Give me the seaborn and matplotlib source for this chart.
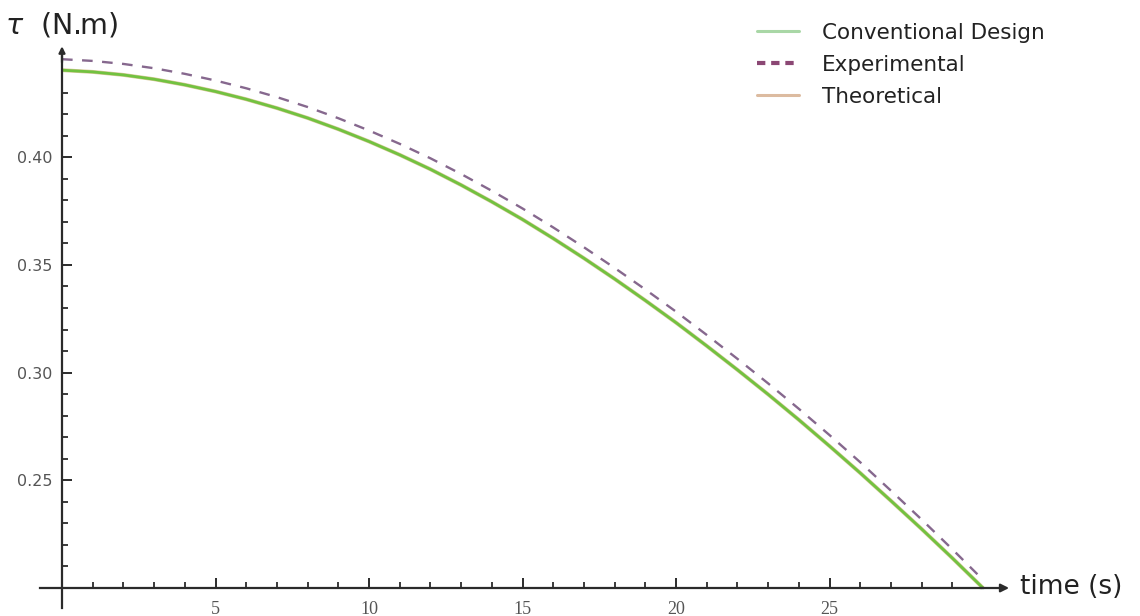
import numpy as np
import pandas as pd
import matplotlib
matplotlib.use("Agg")
import matplotlib.pyplot as plt
from matplotlib.lines import Line2D
from matplotlib.ticker import FixedLocator
import seaborn as sns

# Torque versus time for the three models
time_s = list(range(0, 31))
conventional = [0.4404, 0.4396, 0.4382, 0.4362, 0.4336, 0.4305, 0.4269,
                0.4228, 0.4182, 0.4130, 0.4073, 0.4011, 0.3944, 0.3871,
                0.3793, 0.3711, 0.3623, 0.3531, 0.3435, 0.3335, 0.3232,
                0.3124, 0.3013, 0.2899, 0.2781, 0.2659, 0.2534, 0.2405,
                0.2274, 0.2139, 0.2000]
experimental = [0.4455, 0.4447, 0.4433, 0.4413, 0.4387, 0.4356, 0.4320,
                0.4279, 0.4233, 0.4181, 0.4124, 0.4062, 0.3995, 0.3922,
                0.3844, 0.3762, 0.3674, 0.3582, 0.3486, 0.3386, 0.3283,
                0.3175, 0.3064, 0.2950, 0.2832, 0.2710, 0.2584, 0.2452,
                0.2318, 0.2180, 0.2038]
theoretical = [0.4404, 0.4396, 0.4382, 0.4362, 0.4336, 0.4305, 0.4269,
               0.4228, 0.4182, 0.4130, 0.4073, 0.4011, 0.3944, 0.3871,
               0.3793, 0.3711, 0.3623, 0.3531, 0.3435, 0.3335, 0.3232,
               0.3124, 0.3013, 0.2899, 0.2781, 0.2659, 0.2534, 0.2405,
               0.2274, 0.2139, 0.2000]

series_names = ["Conventional Design", "Experimental", "Theoretical"]
x_major = [5, 10, 15, 20, 25]
y_major = [0.25, 0.30, 0.35, 0.40]
y_major_labels = ["0.25", "0.30", "0.35", "0.40"]

df = pd.DataFrame({"time": time_s,
                   "Conventional Design": conventional,
                   "Experimental": experimental,
                   "Theoretical": theoretical})

sns.set_theme(style="white")
plt.rcParams["font.family"] = ["DejaVu Sans"]

W, H = 1140, 616
fig = plt.figure(figsize=(W / 100, H / 100), dpi=100)
ax = fig.add_axes([0, 0, 1, 1])
ax.set_facecolor("white")

# pixel scale of the plotting region
px_x = 30.7          # pixels per second
px_y = 2154.0        # pixels per N.m
x0_px, y0_px = 62, 588
ax.set_xlim(-x0_px / px_x, (W - x0_px) / px_x)
ax.set_ylim(0.2 - (H - y0_px) / px_y, 0.2 + y0_px / px_y)

sns.lineplot(data=df, x="time", y="Theoretical", ax=ax, color="#d8c89a",
             lw=2.8, legend=False)
sns.lineplot(data=df, x="time", y="Conventional Design", ax=ax,
             color="#72c240", lw=2.0, legend=False)
sns.lineplot(data=df, x="time", y="Experimental", ax=ax, color="#86688e",
             lw=1.7, legend=False)
ax.lines[-1].set_dashes((4.5, 4.0))
for ln in ax.lines:
    ln.set_solid_capstyle("butt")

# Axes through the origin (0, 0.2)
for s in ("top", "right"):
    ax.spines[s].set_visible(False)
ax.spines["left"].set_position(("data", 0))
ax.spines["bottom"].set_position(("data", 0.2))
ax.spines["left"].set_bounds(0.2 - 20 / px_y, 0.45)
ax.spines["bottom"].set_bounds(-0.72, 30.0)
for s in ("left", "bottom"):
    ax.spines[s].set_color("#2b2b2b")
    ax.spines[s].set_linewidth(1.6)

ax.annotate("", xy=(30.85, 0.2), xytext=(29.9, 0.2),
            arrowprops=dict(arrowstyle="-|>", color="#2b2b2b", lw=1.6,
                            mutation_scale=12, shrinkA=0, shrinkB=0))
ax.annotate("", xy=(0, 0.4515), xytext=(0, 0.444),
            arrowprops=dict(arrowstyle="-|>", color="#2b2b2b", lw=1.6,
                            mutation_scale=9, shrinkA=0, shrinkB=0))

ax.xaxis.set_major_locator(FixedLocator(x_major))
ax.xaxis.set_minor_locator(FixedLocator([t for t in range(1, 30) if t % 5]))
ax.set_xticklabels([str(v) for v in x_major])
ax.yaxis.set_major_locator(FixedLocator(y_major))
ax.yaxis.set_minor_locator(FixedLocator(
    [round(0.21 + 0.01 * i, 2) for i in range(24) if (i + 1) % 5]))
ax.set_yticklabels(y_major_labels)

ax.tick_params(axis="both", which="both", direction="in", color="#2b2b2b",
               left=True, bottom=True)
ax.tick_params(axis="both", which="major", length=7, width=1.4)
ax.tick_params(axis="both", which="minor", length=4.5, width=1.3)
ax.tick_params(axis="x", which="major", pad=9, labelsize=12,
               labelcolor="#555555")
ax.tick_params(axis="y", which="major", pad=7, labelsize=11.5,
               labelcolor="#555555")
for lab in ax.get_xticklabels():
    lab.set_family("Liberation Serif")
    lab.set_fontsize(13)

ax.set_xlabel("")
ax.set_ylabel("")

fig.text(5 / W, 1 - 25 / H, r"$\tau$  (N.m)", fontsize=20.5, color="#222222",
         ha="left", va="center")
fig.text(1020 / W, 1 - 587 / H, "time (s)", fontsize=19, color="#222222",
         ha="left", va="center")

handles = [Line2D([], [], color="#a9d7a6", lw=2.2),
           Line2D([], [], color="#8b4774", lw=3.0, dashes=(2.0, 1.4)),
           Line2D([], [], color="#dcbba0", lw=2.2)]
ax.legend(handles, series_names, loc="upper left",
          bbox_to_anchor=(757 / W, 1 - 23 / H), bbox_transform=fig.transFigure,
          frameon=False, fontsize=15.5, handlelength=1.95, handletextpad=1.05,
          borderpad=0, borderaxespad=0, labelspacing=0.55, labelcolor="#222222")

fig.savefig("out.png", dpi=100, facecolor="white")
